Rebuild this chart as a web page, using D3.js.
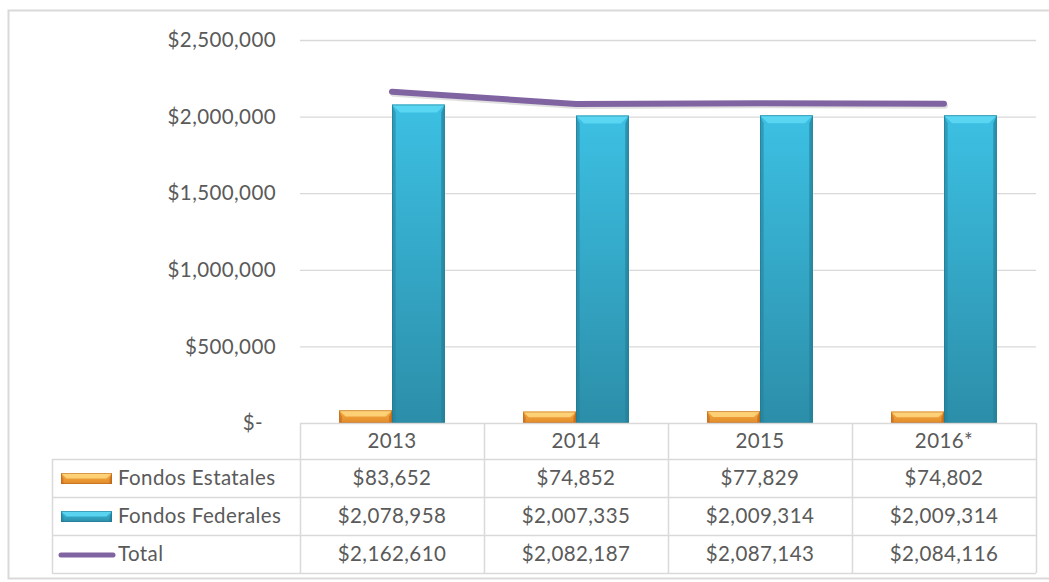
<!DOCTYPE html>
<html>
<head>
<meta charset="utf-8">
<script src="https://cdn.jsdelivr.net/npm/d3@7"></script>
<style>
  body { margin: 0; background: #fff; }
  svg { display: block; }
</style>
</head>
<body>
<div id="chart"></div>
<script>
var years = ['2013', '2014', '2015', '2016*'];
var estatales = [83652, 74852, 77829, 74802];
var federales = [2078958, 2007335, 2009314, 2009314];
var totals = [2162610, 2082187, 2087143, 2084116];
var seriesNames = ['Fondos Estatales', 'Fondos Federales', 'Total'];
var yTicks = [0, 500000, 1000000, 1500000, 2000000, 2500000];

var width = 1049, height = 582;
var mainFont = 'Lato, "Open Sans", sans-serif';
var fontSize = '20.5px';
var letterSp = '0.4px';
var textColor = '#5a5a5a';
var gridColor = '#d9d9d9';
var purple = '#8064a2';

var plotLeft = 300, plotRight = 1036, plotTop = 40, plotBottom = 423;
var rowH = [36, 38, 38, 38];

var svg = d3.select('#chart').append('svg')
    .attr('width', width)
    .attr('height', height);

var defs = svg.append('defs');
function vGrad(id, top, bottom) {
    var g = defs.append('linearGradient').attr('id', id)
        .attr('x1', 0).attr('y1', 0).attr('x2', 0).attr('y2', 1);
    g.append('stop').attr('offset', '0%').attr('stop-color', top);
    g.append('stop').attr('offset', '100%').attr('stop-color', bottom);
}
vGrad('blueGrad', '#3cc0e3', '#2c8ea9');
vGrad('orangeGrad', '#f8b043', '#e08a2a');

var palette = [
    { fill: 'url(#orangeGrad)', light: '#ffd880', dark: '#c4661a', edge: '#b45d17' },
    { fill: 'url(#blueGrad)', light: '#5fd9f5', dark: '#24809a', edge: '#1f6f86' }
];

// outer border
svg.append('rect')
    .attr('x', 8.5).attr('y', 10.5)
    .attr('width', 1060).attr('height', 568)
    .attr('fill', 'none')
    .attr('stroke', '#d9d9d9')
    .attr('stroke-width', 2);

var x = d3.scaleBand().domain(years).range([plotLeft, plotRight]);
var xInner = d3.scaleBand().domain([0, 1]).range([0, x.bandwidth()]).paddingOuter(0.74);
var y = d3.scaleLinear().domain([0, 2500000]).range([plotBottom, plotTop]);

// gridlines
svg.append('g').selectAll('line')
    .data(yTicks.filter(function(d) { return d > 0; }))
    .enter().append('line')
    .attr('x1', plotLeft).attr('x2', plotRight)
    .attr('y1', function(d) { return y(d) + 0.5; })
    .attr('y2', function(d) { return y(d) + 0.5; })
    .attr('stroke', gridColor)
    .attr('stroke-width', 1.3);

// y axis labels
var fmt = d3.format(',');
svg.append('g').selectAll('text')
    .data(yTicks)
    .enter().append('text')
    .attr('x', function(d) { return d === 0 ? 263 : 276; })
    .attr('y', function(d) { return y(d); })
    .attr('dy', '0.35em')
    .attr('text-anchor', 'end')
    .style('font-family', mainFont)
    .style('font-size', fontSize)
    .style('letter-spacing', letterSp)
    .style('fill', textColor)
    .text(function(d) { return d === 0 ? '$-' : '$' + fmt(d); });

// bevel bar drawing
function bevelBar(g, bx, by, bw, bh, pal) {
    var b = Math.min(8, bh / 2, bw / 4);
    g.append('rect')
        .attr('x', bx).attr('y', by)
        .attr('width', bw).attr('height', bh)
        .attr('fill', pal.fill);
    // top bevel
    g.append('polygon')
        .attr('points', [[bx, by], [bx + bw, by], [bx + bw - b, by + b], [bx + b, by + b]].join(' '))
        .attr('fill', pal.light)
        .attr('opacity', 0.85);
    // side bevels
    g.append('polygon')
        .attr('points', [[bx, by], [bx + b * 0.45, by + b], [bx + b * 0.45, by + bh], [bx, by + bh]].join(' '))
        .attr('fill', pal.dark)
        .attr('opacity', 0.55);
    g.append('polygon')
        .attr('points', [[bx + bw, by], [bx + bw - b * 0.45, by + b], [bx + bw - b * 0.45, by + bh], [bx + bw, by + bh]].join(' '))
        .attr('fill', pal.dark)
        .attr('opacity', 0.7);
    g.append('rect')
        .attr('x', bx + 0.5).attr('y', by + 0.5)
        .attr('width', bw - 1).attr('height', bh - 1)
        .attr('fill', 'none')
        .attr('stroke', pal.edge)
        .attr('stroke-opacity', 0.5)
        .attr('stroke-width', 1);
}

var bars = svg.append('g');
years.forEach(function(yr, i) {
    var vals = [estatales[i], federales[i]];
    vals.forEach(function(v, j) {
        var bx = x(yr) + xInner(j);
        bevelBar(bars, bx, y(v), xInner.bandwidth(), plotBottom - y(v), palette[j]);
    });
});

// total line
var line = d3.line()
    .x(function(d, i) { return x(years[i]) + x.bandwidth() / 2; })
    .y(function(d) { return y(d); });
svg.append('path')
    .datum(totals)
    .attr('d', line)
    .attr('fill', 'none')
    .attr('stroke', 'rgba(0,0,0,0.12)')
    .attr('stroke-width', 6)
    .attr('stroke-linecap', 'round')
    .attr('transform', 'translate(1,2)');
svg.append('path')
    .datum(totals)
    .attr('d', line)
    .attr('fill', 'none')
    .attr('stroke', purple)
    .attr('stroke-width', 6)
    .attr('stroke-linecap', 'round')
    .attr('stroke-linejoin', 'round');

// data table
var rowY = [plotBottom];
rowH.forEach(function(h, i) { rowY.push(rowY[i] + h); });
var tableLeft = 52;
var table = svg.append('g');
var tableStroke = '#d9d9d9';

// horizontal lines
rowY.forEach(function(ry, i) {
    table.append('line')
        .attr('x1', i === 0 ? plotLeft : tableLeft)
        .attr('x2', plotRight)
        .attr('y1', ry + 0.5).attr('y2', ry + 0.5)
        .attr('stroke', tableStroke)
        .attr('stroke-width', 1.5);
});
// vertical lines
var vx = [plotLeft].concat(years.map(function(yr) { return x(yr) + x.bandwidth(); }));
vx.forEach(function(xx) {
    table.append('line')
        .attr('x1', xx + 0.5).attr('x2', xx + 0.5)
        .attr('y1', rowY[0]).attr('y2', rowY[4])
        .attr('stroke', tableStroke)
        .attr('stroke-width', 1.5);
});
table.append('line')
    .attr('x1', tableLeft + 0.5).attr('x2', tableLeft + 0.5)
    .attr('y1', rowY[1]).attr('y2', rowY[4])
    .attr('stroke', tableStroke)
    .attr('stroke-width', 1.5);

function cellText(tx, ty, str, anchor) {
    table.append('text')
        .attr('x', tx).attr('y', ty)
        .attr('dy', '0.35em')
        .attr('text-anchor', anchor || 'middle')
        .style('font-family', mainFont)
        .style('font-size', fontSize)
        .style('letter-spacing', letterSp)
        .style('fill', textColor)
        .text(str);
}

var rows = [estatales, federales, totals];
years.forEach(function(yr, i) {
    var cx = x(yr) + x.bandwidth() / 2;
    cellText(cx, (rowY[0] + rowY[1]) / 2, yr);
    rows.forEach(function(r, k) {
        cellText(cx, (rowY[k + 1] + rowY[k + 2]) / 2, '$' + fmt(r[i]));
    });
});

// legend keys in table
seriesNames.forEach(function(name, k) {
    var cy = (rowY[k + 1] + rowY[k + 2]) / 2;
    if (k < 2) {
        bevelBar(table, 61, cy - 5, 51, 11, palette[k]);
    } else {
        table.append('line')
            .attr('x1', 61).attr('x2', 113)
            .attr('y1', cy + 1).attr('y2', cy + 1)
            .attr('stroke', purple)
            .attr('stroke-width', 5)
            .attr('stroke-linecap', 'round');
    }
    cellText(118, cy, name, 'start');
});
</script>
</body>
</html>
